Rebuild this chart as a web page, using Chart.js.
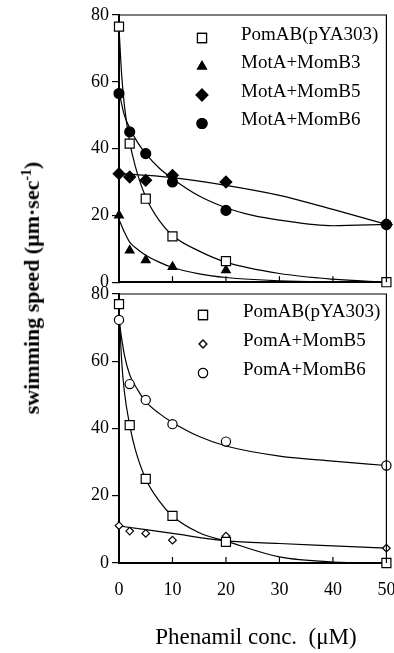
<!DOCTYPE html>
<html lang="en">
<head>
    <meta charset="UTF-8">
    <title>Swimming speed vs phenamil</title>
    <script src="https://cdn.jsdelivr.net/npm/chart.js"></script>
    <style>
        body { margin: 0; background: #fff; }
        .page { position: relative; width: 394px; height: 653px; overflow: hidden; font-family: "Liberation Serif", serif; }
        .panel { position: absolute; left: 0; width: 394px; }
        #topWrap { top: 0; height: 296px; }
        #botWrap { top: 280px; height: 373px; }
        .y-title {
            position: absolute; left: 32px; top: 288px;
            transform: translate(-50%, -50%) rotate(-90deg);
            white-space: nowrap; font-weight: bold; font-size: 22px; color: #000;
        }
        .y-title sup { font-size: 14px; }
        .x-title {
            position: absolute; left: 256px; top: 637px;
            transform: translate(-50%, -50%);
            white-space: nowrap; font-size: 23px; color: #000;
        }
    </style>
</head>
<body>
<div class="page">
    <div class="panel" id="topWrap"><canvas id="topChart"></canvas></div>
    <div class="panel" id="botWrap"><canvas id="botChart"></canvas></div>
    <div class="y-title">swimming speed (&mu;m&middot;sec<sup>-1</sup>)</div>
    <div class="x-title">Phenamil conc.&nbsp;&nbsp;(&mu;M)</div>
</div>

<script>
    // phenamil concentrations where speeds were measured (uM)
    var concX = [0, 2, 5, 10, 20, 50];
    var concXB3 = [0, 2, 5, 10, 20];

    // top panel, measured points
    var pomABTop = [76.5, 41.5, 25, 13.7, 6.3, 0];
    var motB3 = [20, 9.5, 6.6, 4.6, 3.6];
    var motB5 = [32.5, 31.5, 30.5, 32, 30, 17.3];
    var motB6 = [56.5, 45, 38.5, 30, 21.5, 17.3];

    // top panel, fitted curves
    var pomABTopFitX = [0, 0.5, 1, 2, 3, 5, 7.5, 10, 15, 20, 30, 40, 50];
    var pomABTopFit = [76, 62, 53, 42, 35, 25.5, 18.5, 14, 9.3, 6, 2.6, 0.9, 0];
    var motB3FitX = [0, 1, 2, 3.5, 5, 7.5, 10, 15, 20, 30, 40, 50];
    var motB3Fit = [18.8, 15, 12, 9.8, 8.1, 6, 4.4, 2.5, 1.4, 0.4, 0.1, 0];
    var motB5FitX = [0, 5, 10, 20, 30, 40, 50];
    var motB5Fit = [32.5, 32, 31.3, 29, 26, 21.8, 17.3];
    var motB6FitX = [0, 1, 2, 3.5, 5, 7.5, 10, 15, 20, 25, 30, 40, 50];
    var motB6Fit = [57, 50, 46.2, 41.8, 38.5, 34.2, 31, 25.8, 22.3, 20, 18.6, 16.9, 17.3];

    // bottom panel, measured points
    var pomABBot = [77, 41, 25, 14, 6.3, 0];
    var pomB5 = [11.1, 9.5, 8.8, 6.8, 8, 4.4];
    var pomB6 = [72.3, 53.2, 48.5, 41.3, 36.1, 29];

    // bottom panel, fitted curves
    var pomABBotFitX = [0, 0.5, 1, 2, 3, 5, 7.5, 10, 15, 20, 30, 40, 50];
    var pomABBotFit = [76, 60, 51, 41, 34, 25, 18.5, 14, 9, 6.5, 1.8, 0.3, 0];
    var pomB5FitX = [0, 10, 20, 30, 40, 50];
    var pomB5Fit = [11, 8.8, 6.6, 5.8, 5.1, 4.4];
    var pomB6FitX = [0, 1, 2, 3.5, 5, 7.5, 10, 15, 20, 30, 40, 50];
    var pomB6Fit = [72, 62, 56, 51.5, 48, 44.5, 41.8, 37.6, 34.8, 31.8, 30.3, 29];

    var yTicks = [0, 20, 40, 60, 80];
    var xTicks = [0, 10, 20, 30, 40, 50];

    function pts(xs, ys) {
        return ys.map(function (y, i) { return { x: xs[i], y: y }; });
    }

    function markers(label, xs, ys, style, radius, filled) {
        return {
            label: label,
            data: pts(xs, ys),
            showLine: false,
            pointStyle: style,
            pointRadius: radius,
            pointBorderWidth: 1.2,
            pointBorderColor: '#000',
            pointBackgroundColor: filled ? '#000' : '#fff',
            clip: false
        };
    }

    function fitLine(xs, ys) {
        return {
            label: '',
            data: pts(xs, ys),
            showLine: true,
            pointRadius: 0,
            borderColor: '#000',
            borderWidth: 1.2,
            cubicInterpolationMode: 'monotone',
            clip: false
        };
    }

    // legend drawn inside the plot, frame on top/right, small inner x ticks
    var panelDecor = {
        id: 'panelDecor',
        afterDatasetsDraw: function (chart, args, opts) {
            var ctx = chart.ctx;
            var a = chart.chartArea;
            var xs = chart.scales.x;
            ctx.save();
            ctx.strokeStyle = '#000';
            ctx.lineWidth = 1.2;
            ctx.beginPath();
            ctx.moveTo(a.left, a.top);
            ctx.lineTo(a.right, a.top);
            ctx.lineTo(a.right, a.bottom);
            xTicks.slice(1, -1).forEach(function (v) {
                var px = xs.getPixelForValue(v);
                ctx.moveTo(px, a.bottom);
                ctx.lineTo(px, a.bottom - 6);
            });
            ctx.stroke();

            ctx.font = '19px "Liberation Serif"';
            ctx.fillStyle = '#000';
            ctx.textBaseline = 'middle';
            opts.items.forEach(function (idx, row) {
                var ds = chart.data.datasets[idx];
                var y = a.top + opts.top + row * opts.step;
                Chart.helpers.drawPoint(ctx, {
                    pointStyle: ds.pointStyle,
                    radius: ds.pointRadius,
                    borderWidth: 1.2,
                    rotation: 0
                }, a.left + opts.markX, y + 3);
                ctx.fillStyle = ds.pointBackgroundColor;
                ctx.strokeStyle = '#000';
                ctx.lineWidth = 1.2;
                ctx.fill();
                ctx.stroke();
                ctx.fillStyle = '#000';
                ctx.fillText(ds.label, a.left + opts.textX, y);
            });
            ctx.restore();
        }
    };

    function makeOptions(showXLabels, padTop, xHeight, legend) {
        return {
            responsive: true,
            maintainAspectRatio: false,
            animation: false,
            layout: { padding: { top: padTop, right: 7, left: 0, bottom: 0 } },
            plugins: {
                legend: { display: false },
                tooltip: { enabled: false },
                panelDecor: legend
            },
            scales: {
                x: {
                    type: 'linear', min: 0, max: 50,
                    afterBuildTicks: function (s) { s.ticks = xTicks.map(function (v) { return { value: v }; }); },
                    afterFit: function (s) { s.height = xHeight; s.paddingLeft = 0; s.paddingRight = 0; },
                    border: { display: true, color: '#000', width: 2 },
                    grid: { display: false },
                    ticks: {
                        display: showXLabels, padding: 8, color: '#000',
                        font: { family: 'Liberation Serif', size: 18 }
                    }
                },
                y: {
                    type: 'linear', min: 0, max: 80,
                    afterBuildTicks: function (s) { s.ticks = yTicks.map(function (v) { return { value: v }; }); },
                    afterFit: function (s) { s.width = 119; },
                    border: { display: true, color: '#000', width: 2 },
                    grid: { drawOnChartArea: false, drawTicks: true, tickLength: 7, color: '#000', lineWidth: 1.2 },
                    ticks: {
                        padding: 3, color: '#000',
                        font: { family: 'Liberation Serif', size: 18 }
                    }
                }
            }
        };
    }

    document.addEventListener('DOMContentLoaded', function () {
        new Chart(document.getElementById('topChart').getContext('2d'), {
            type: 'scatter',
            data: {
                datasets: [
                    markers('PomAB(pYA303)', concX, pomABTop, 'rect', 6.4, false),
                    markers('MotA+MomB3', concXB3, motB3, 'triangle', 5, true),
                    markers('MotA+MomB5', concX, motB5, 'rectRot', 5.8, true),
                    markers('MotA+MomB6', concX, motB6, 'circle', 5, true),
                    fitLine(pomABTopFitX, pomABTopFit),
                    fitLine(motB3FitX, motB3Fit),
                    fitLine(motB5FitX, motB5Fit),
                    fitLine(motB6FitX, motB6Fit)
                ]
            },
            options: makeOptions(false, 15, 12, { items: [0, 1, 2, 3], top: 20, step: 28.5, markX: 83, textX: 122 }),
            plugins: [panelDecor]
        });

        new Chart(document.getElementById('botChart').getContext('2d'), {
            type: 'scatter',
            data: {
                datasets: [
                    markers('PomAB(pYA303)', concX, pomABBot, 'rect', 6.4, false),
                    markers('PomA+MomB5', concX, pomB5, 'rectRot', 3.8, false),
                    markers('PomA+MomB6', concX, pomB6, 'circle', 4.6, false),
                    fitLine(pomABBotFitX, pomABBotFit),
                    fitLine(pomB5FitX, pomB5Fit),
                    fitLine(pomB6FitX, pomB6Fit)
                ]
            },
            options: makeOptions(true, 14, 90, { items: [0, 1, 2], top: 18, step: 29, markX: 84, textX: 124 }),
            plugins: [panelDecor]
        });
    });
</script>
</body>
</html>
